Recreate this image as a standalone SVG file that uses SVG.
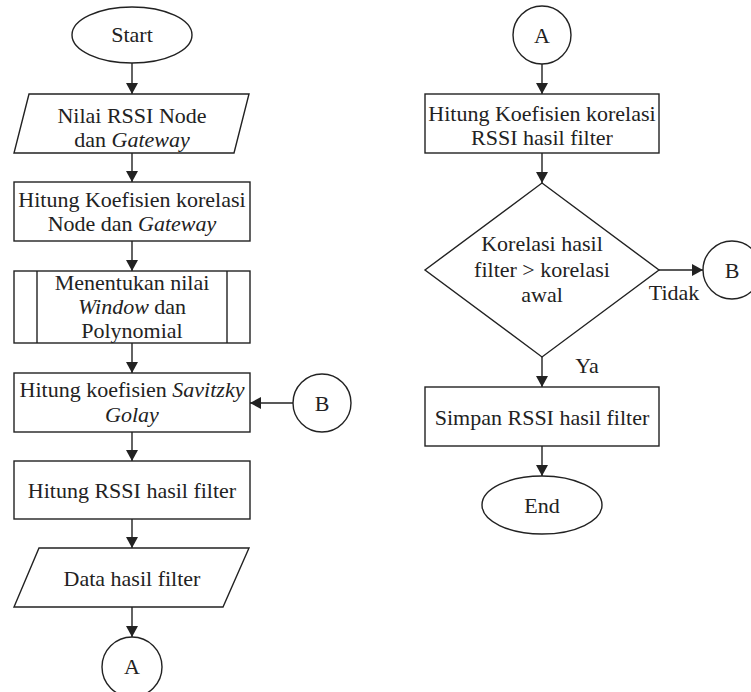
<svg xmlns="http://www.w3.org/2000/svg" width="751" height="692" viewBox="0 0 751 692">
<style>
.s{fill:#fff;stroke:#222;stroke-width:1.4}
.t{font-family:"Liberation Serif","Times New Roman",serif;font-size:22px;fill:#222;text-anchor:middle}
.i{font-style:italic}
.c{fill:none;stroke:#222;stroke-width:1.4}
</style>
<defs>
<marker id="ah" markerUnits="userSpaceOnUse" markerWidth="12" markerHeight="12" refX="11" refY="6" orient="auto">
<path d="M0,0 L11,6 L0,12 z" fill="#222"/>
</marker>
</defs>
<rect width="751" height="692" fill="#fff"/>
<g id="connectors">
<line class="c" x1="132" y1="63" x2="132" y2="94" marker-end="url(#ah)"/>
<line class="c" x1="132" y1="153" x2="132" y2="182" marker-end="url(#ah)"/>
<line class="c" x1="132" y1="241" x2="132" y2="271" marker-end="url(#ah)"/>
<line class="c" x1="132" y1="343" x2="132" y2="373" marker-end="url(#ah)"/>
<line class="c" x1="132" y1="432" x2="132" y2="461" marker-end="url(#ah)"/>
<line class="c" x1="132" y1="519" x2="132" y2="548" marker-end="url(#ah)"/>
<line class="c" x1="132" y1="607" x2="132" y2="637" marker-end="url(#ah)"/>
<line class="c" x1="293" y1="403" x2="250" y2="403" marker-end="url(#ah)"/>
<line class="c" x1="542" y1="64" x2="542" y2="94" marker-end="url(#ah)"/>
<line class="c" x1="542" y1="153" x2="542" y2="183" marker-end="url(#ah)"/>
<line class="c" x1="659" y1="270" x2="703" y2="270" marker-end="url(#ah)"/>
<line class="c" x1="542" y1="357" x2="542" y2="387" marker-end="url(#ah)"/>
<line class="c" x1="542" y1="446" x2="542" y2="476" marker-end="url(#ah)"/>
<text class="t" x="674" y="300">Tidak</text>
<text class="t" x="587" y="373">Ya</text>
</g>
<g id="start">
<ellipse class="s" cx="132" cy="35" rx="60" ry="28"/>
<text class="t" x="132" y="42">Start</text>
</g>
<g id="input1">
<polygon class="s" points="29,94 249,94 234,153 14,153"/>
<text class="t" x="132" y="123">Nilai RSSI Node</text>
<text class="t" x="132" y="147">dan <tspan class="i">Gateway</tspan></text>
</g>
<g id="korelasi1">
<rect class="s" x="14" y="182" width="236" height="59"/>
<text class="t" x="132" y="207">Hitung Koefisien korelasi</text>
<text class="t" x="132" y="231">Node dan <tspan class="i">Gateway</tspan></text>
</g>
<g id="menentukan">
<rect class="s" x="14" y="271" width="236" height="72"/>
<line class="c" x1="37" y1="271" x2="37" y2="343"/>
<line class="c" x1="227" y1="271" x2="227" y2="343"/>
<text class="t" x="132" y="290">Menentukan nilai</text>
<text class="t" x="132" y="314"><tspan class="i">Window</tspan> dan</text>
<text class="t" x="132" y="338">Polynomial</text>
</g>
<g id="savitzky">
<rect class="s" x="14" y="373" width="236" height="59"/>
<text class="t" x="132" y="397">Hitung koefisien <tspan class="i">Savitzky</tspan></text>
<text class="t" x="132" y="422" font-style="italic">Golay</text>
</g>
<g id="connB_left">
<circle class="s" cx="322" cy="403" r="29"/>
<text class="t" x="322" y="411">B</text>
</g>
<g id="rssi">
<rect class="s" x="14" y="461" width="236" height="58"/>
<text class="t" x="132" y="498">Hitung RSSI hasil filter</text>
</g>
<g id="data">
<polygon class="s" points="39,548 249,548 223,607 14,607"/>
<text class="t" x="132" y="586">Data hasil filter</text>
</g>
<g id="connA_left">
<circle class="s" cx="132" cy="667" r="30"/>
<text class="t" x="132" y="674">A</text>
</g>
<g id="connA_right">
<circle class="s" cx="542" cy="35" r="29"/>
<text class="t" x="542" y="43">A</text>
</g>
<g id="korelasi2">
<rect class="s" x="425" y="94" width="234" height="59"/>
<text class="t" x="542" y="121">Hitung Koefisien korelasi</text>
<text class="t" x="542" y="145">RSSI hasil filter</text>
</g>
<g id="decision">
<polygon class="s" points="542,183 659,270 542,357 425,270"/>
<text class="t" x="542" y="251">Korelasi hasil</text>
<text class="t" x="542" y="277">filter &gt; korelasi</text>
<text class="t" x="542" y="302">awal</text>
</g>
<g id="connB_right">
<circle class="s" cx="732" cy="270" r="29"/>
<text class="t" x="732" y="278">B</text>
</g>
<g id="simpan">
<rect class="s" x="425" y="387" width="234" height="59"/>
<text class="t" x="542" y="425">Simpan RSSI hasil filter</text>
</g>
<g id="end">
<ellipse class="s" cx="542" cy="505" rx="60" ry="29"/>
<text class="t" x="542" y="513">End</text>
</g>
</svg>
